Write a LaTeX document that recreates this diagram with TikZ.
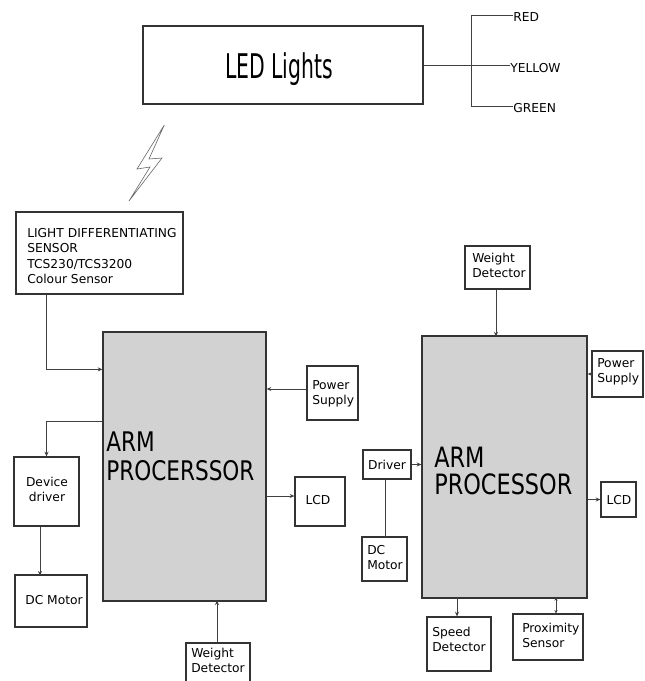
\documentclass[tikz,border=0pt]{standalone}
\usepackage{fontspec}
\setmainfont{DejaVu Sans}
\usetikzlibrary{arrows.meta,calc}
\begin{document}
\begin{tikzpicture}[x=0.75pt,y=-0.75pt,
  bx/.style={draw=black!80, line width=0.9pt, inner sep=0pt},
  dim/.style 2 args={minimum width=#1*0.75pt, minimum height=#2*0.75pt},
  proc/.style={bx, fill=gray!35},
  sm/.style={inner sep=0pt, font=\fontsize{9.2}{11.4}\selectfont, align=left},
  big/.style={inner sep=0pt, anchor=base west},
  con/.style={draw=black!75, line width=0.6pt},
  arr/.style={con, -{Stealth[length=3.5pt,width=3pt]}},
  darr/.style={con, {Stealth[length=2.5pt,width=2.5pt]}-{Stealth[length=2.5pt,width=2.5pt]}}
]
\useasboundingbox (0,0) rectangle (645,681);

% ---------- top: LED lights ----------
\node[bx,dim={280}{78}] (led) at (283,65) {};
\node[inner sep=0pt, anchor=base, font=\fontsize{25.5}{30}\selectfont] (ledt) at (279,78.5) {\scalebox{0.6}[1]{LED Lights}};
\coordinate (jT) at (471,15);
\coordinate (jB) at (471,106);
\node[sm, anchor=west] (red) at (513,17) {RED};
\node[sm, anchor=west] (yel) at (510,68) {YELLOW};
\node[sm, anchor=west] (grn) at (513,108) {GREEN};
\draw[con] (led.east) -- (led.east -| yel.west);
\draw[con] (jT) -- (jB);
\draw[con] (jT) -- (jT -| red.west);
\draw[con] (jB) -- (jB -| grn.west);

% lightning
\draw[draw=black!60, line width=0.45pt] (164.3,125) -- (137,169) -- (150,167) -- (129,201) -- (162,158) -- (149,159) -- cycle;

% ---------- left system ----------
\node[bx,dim={167}{82}] (sens) at (99.5,253) {};
\node[sm, anchor=north west, font=\fontsize{9.2}{11.6}\selectfont] (senst) at (27,228) {LIGHT DIFFERENTIATING\\SENSOR\\TCS230/TCS3200\\Colour Sensor};

\node[proc,dim={163}{269}] (p1) at (184.5,466.5) {};
\node[big, font=\fontsize{20.25}{24}\selectfont] (arm1) at (106,451.7) {\scalebox{0.8}[1]{ARM}};
\node[big, font=\fontsize{20.25}{24}\selectfont] (pro1) at (106,480.7) {\scalebox{0.8}[1]{PROCERSSOR}};

\node[bx,dim={51}{54}] (ps1) at (332.5,393) {};
\node[sm, anchor=north west] (ps1t) at (312,380) {Power\\Supply};

\node[bx,dim={65}{69}] (dd) at (46.5,491.5) {};
\node[sm, anchor=north, align=center] (ddt) at (47,477) {Device\\driver};

\node[bx,dim={72}{52}] (dcm1) at (51,601) {};
\node[sm] (dcm1t) at (54,600) {DC Motor};

\node[bx,dim={50}{49}] (lcd1) at (320,501.5) {};
\node[sm] (lcd1t) at (318,500) {LCD};

\node[bx,dim={64}{57}] (wd1) at (218,671.5) {};
\node[sm, anchor=north west] (wd1t) at (191,648) {Weight\\Detector};

\draw[arr] (sens.south -| dd.north) |- ($(p1.north west)+(0,38)$);
\draw[arr] ($(p1.north west)+(0,90)$) -| (dd.north);
\draw[arr] ($(dd.south)+(-6.5,0)$) -- ++(0,49);
\draw[arr] (ps1.west |- 0,389) -- (p1.east |- 0,389);
\draw[arr] (p1.east |- 0,496) -- (lcd1.west |- 0,496);
\draw[arr] ($(wd1.north)+(-1,0)$) -- ++(0,-42);

% ---------- right system ----------
\node[bx,dim={65}{43}] (wd2) at (497.5,267.5) {};
\node[sm, anchor=north west] (wd2t) at (472,253) {Weight\\Detector};

\node[proc,dim={165}{262}] (p2) at (504.5,467) {};
\node[big, font=\fontsize{21}{24}\selectfont] (arm2) at (434,467) {\scalebox{0.8}[1]{ARM}};
\node[big, font=\fontsize{21}{24}\selectfont] (pro2) at (434,494) {\scalebox{0.8}[1]{PROCESSOR}};

\node[bx,dim={51}{46}] (ps2) at (617.5,374) {};
\node[sm, anchor=north west] (ps2t) at (597,358) {Power\\Supply};

\node[bx,dim={48}{29}] (drv) at (387,464.5) {};
\node[sm] (drvt) at (387,465) {Driver};

\node[bx,dim={45}{44}] (dcm2) at (384.5,559) {};
\node[sm, anchor=north west] (dcm2t) at (367,545) {DC\\Motor};

\node[bx,dim={35}{35}] (lcd2) at (618.5,499.5) {};
\node[sm] (lcd2t) at (619,500) {LCD};

\node[bx,dim={64}{54}] (sd) at (459,644) {};
\node[sm, anchor=north west] (sdt) at (432,627) {Speed\\Detector};

\node[bx,dim={70}{46}] (px) at (548,637) {};
\node[sm, anchor=north west] (pxt) at (522,623) {Proximity\\Sensor};

\draw[arr] ($(wd2.south)+(-1.5,0)$) -- ++(0,47);
\draw[arr] (ps2.west) -- (ps2.west -| p2.east);
\draw[arr] (drv.east) -- (drv.east -| p2.west);
\draw[con] ($(drv.south)+(-2,0)$) -- ++(0,58);
\draw[arr] (p2.east |- lcd2.west) -- (lcd2.west);
\draw[arr] ($(sd.north)+(-2,-19)$) -- ($(sd.north)+(-2,0)$);
\draw[darr] ($(px.north)+(8,0)$) -- ++(0,-16);
\end{tikzpicture}
\end{document}
